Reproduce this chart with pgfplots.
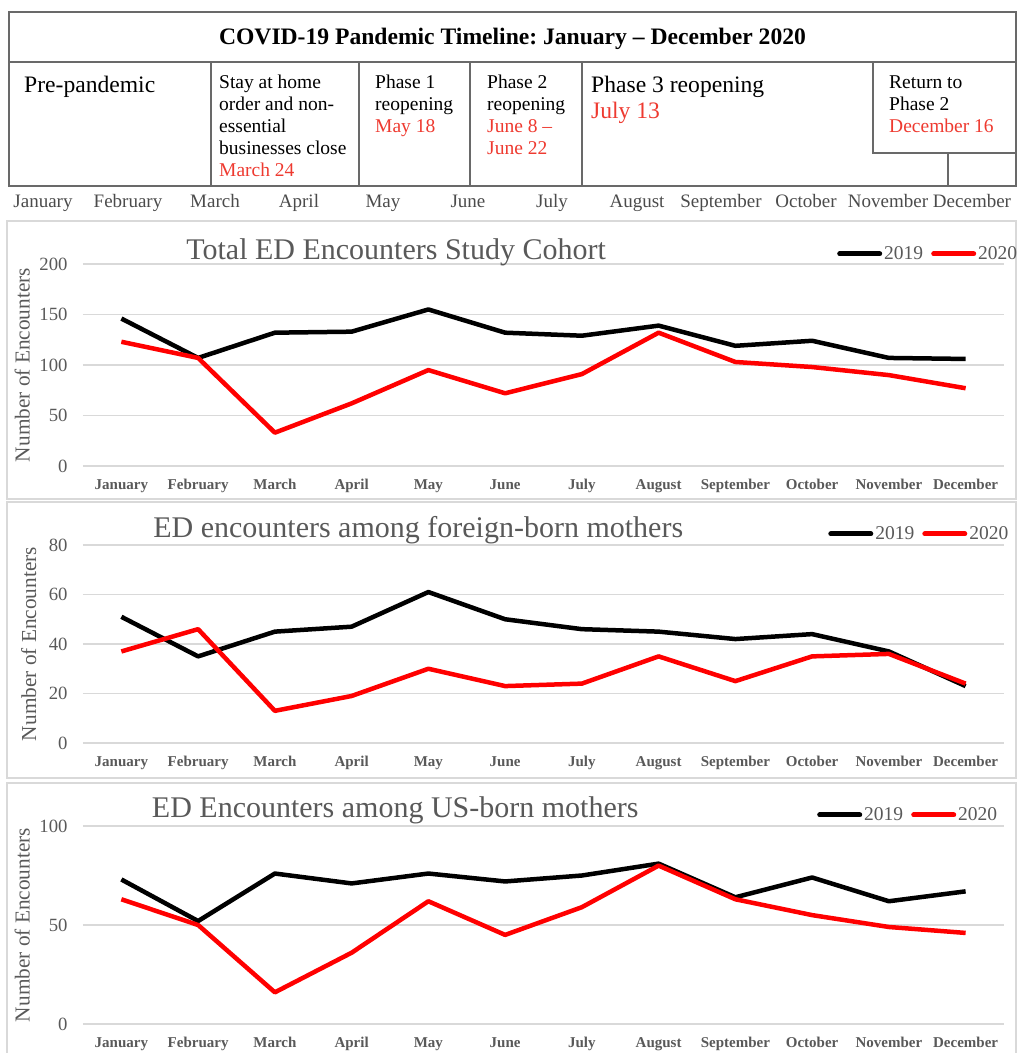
\documentclass[border=0pt]{standalone}
\usepackage{pgfplots}
\pgfplotsset{compat=1.18}
\usepackage{fontspec}
\setmainfont{Liberation Serif}
\frenchspacing
\definecolor{tgray}{RGB}{89,89,89}
\definecolor{ggray}{RGB}{217,217,217}
\definecolor{bgray}{RGB}{105,105,105}
\definecolor{mred}{RGB}{238,58,48}
\definecolor{lred}{RGB}{255,0,0}
\definecolor{mgray}{RGB}{75,75,75}
\tikzset{ttl/.style={anchor=base, font=\fontsize{30}{30}\selectfont, text=tgray}}
\pgfplotsset{
 panel/.style={
  scale only axis, width=921pt, xmin=-0.5, xmax=11.5, ymin=0,
  axis line style={draw=none}, major tick length=0pt,
  ymajorgrids, grid style={ggray, line width=1.5pt},
  xtick={0,...,11},
  xticklabels={January,February,March,April,May,June,July,August,September,October,November,December},
  xticklabel style={font=\fontsize{15}{15}\selectfont\bfseries, text=tgray, yshift=-10pt},
  yticklabel style={font=\fontsize{18.7}{19}\selectfont, text=tgray, xshift=-12pt},
  /pgf/number format/assume math mode=true,
  ylabel={Number of Encounters},
  ylabel style={font=\fontsize{21.3}{22}\selectfont, text=tgray, anchor=center},
  legend columns=2,
  legend image code/.code={\draw[#1, line width=5pt, line cap=round] (0pt,0pt) -- (40pt,0pt);},
  legend style={draw=none, fill=none, anchor=west, inner sep=0pt,
    font=\fontsize{19.5}{20}\selectfont\color{tgray},
    /tikz/every even column/.append style={column sep=6pt}},
  clip=false,
 },
 s19/.style={black, line width=4.5pt, line join=round},
 s20/.style={lred, line width=4.5pt, line join=round},
}
\begin{document}
\begin{tikzpicture}
\path[use as bounding box] (0pt,0pt) rectangle (1017pt,-1053pt);
\begin{scope}[x=1pt,y=-1pt]
% panel borders
\draw[ggray, line width=1.5pt] (7,221) rectangle (1016,499);
\draw[ggray, line width=1.5pt] (7,502) rectangle (1016,778);
\draw[ggray, line width=1.5pt] (7,783) rectangle (1016,1062);
% timeline box
\draw[bgray, line width=1.5pt] (9,12) rectangle (1016,186);
\draw[bgray, line width=1.5pt] (9,62) -- (1016,62);
\draw[bgray, line width=1.5pt] (211,62) -- (211,186);
\draw[bgray, line width=1.5pt] (359,62) -- (359,186);
\draw[bgray, line width=1.5pt] (470,62) -- (470,186);
\draw[bgray, line width=1.5pt] (582,62) -- (582,186);
\draw[bgray, line width=1.5pt] (873,62) -- (873,153) -- (1016,153);
\draw[bgray, line width=1.5pt] (948,153) -- (948,186);
\node[anchor=base, font=\fontsize{23.6}{24}\selectfont\bfseries] at (512.5,44) {COVID-19 Pandemic Timeline: January -- December 2020};
\begin{scope}[every node/.style={anchor=base west, inner sep=0pt, font=\fontsize{19.5}{22}\selectfont}]
\node[font=\fontsize{23.6}{24}\selectfont] at (24,92) {Pre-pandemic};
\node at (219,88) {Stay at home};
\node at (219,110) {order and non-};
\node at (219,132) {essential};
\node at (219,154) {businesses close};
\node[text=mred] at (219,176) {March 24};
\node at (375,88) {Phase 1};
\node at (375,110) {reopening};
\node[text=mred] at (375,132) {May 18};
\node at (487,88) {Phase 2};
\node at (487,110) {reopening};
\node[text=mred] at (487,132) {June 8 --};
\node[text=mred] at (487,154) {June 22};
\node[font=\fontsize{23.6}{24}\selectfont] at (591,92) {Phase 3 reopening};
\node[font=\fontsize{23.6}{24}\selectfont, text=mred] at (591,118) {July 13};
\node at (889,88) {Return to};
\node at (889,110) {Phase 2};
\node[text=mred] at (889,132) {December 16};
\end{scope}
\begin{scope}[every node/.style={anchor=base, inner sep=0pt, font=\fontsize{19}{20}\selectfont, text=mgray}]
\node at (43,207) {January};
\node at (128,207) {February};
\node at (215,207) {March};
\node at (299,207) {April};
\node at (383,207) {May};
\node at (468,207) {June};
\node at (552,207) {July};
\node at (637,207) {August};
\node at (721,207) {September};
\node at (806,207) {October};
\node at (888,207) {November};
\node at (972,207) {December};
\end{scope}
\end{scope}

% Panel 1
\begin{axis}[panel, at={(83pt,-466pt)}, anchor=south west, height=202pt,
  ymax=200, ytick={0,50,100,150,200},
  ylabel style={at={(axis description cs:-0.066,0.5)}},
  legend style={at={(0.8187,1.05)}}]
\addplot[s19] coordinates {(0,146) (1,107) (2,132) (3,133) (4,155) (5,132) (6,129) (7,139) (8,119) (9,124) (10,107) (11,106)};
\addplot[s20] coordinates {(0,123) (1,107) (2,33) (3,62) (4,95) (5,72) (6,91) (7,132) (8,103) (9,98) (10,90) (11,77)};
\legend{2019,2020}
\node[ttl] at (axis description cs:0.34,1.02) {Total ED Encounters Study Cohort};
\end{axis}

% Panel 2
\begin{axis}[panel, at={(83pt,-743pt)}, anchor=south west, height=198pt,
  ymax=80, ytick={0,20,40,60,80},
  ylabel style={at={(axis description cs:-0.059,0.5)}},
  legend style={at={(0.809,1.056)}}]
\addplot[s19] coordinates {(0,51) (1,35) (2,45) (3,47) (4,61) (5,50) (6,46) (7,45) (8,42) (9,44) (10,37) (11,23)};
\addplot[s20] coordinates {(0,37) (1,46) (2,13) (3,19) (4,30) (5,23) (6,24) (7,35) (8,25) (9,35) (10,36) (11,24)};
\legend{2019,2020}
\node[ttl] at (axis description cs:0.364,1.04) {ED encounters among foreign-born mothers};
\end{axis}

% Panel 3
\begin{axis}[panel, at={(83pt,-1024pt)}, anchor=south west, height=198pt,
  ymax=100, ytick={0,50,100},
  ylabel style={at={(axis description cs:-0.066,0.5)}},
  legend style={at={(0.797,1.056)}}]
\addplot[s19] coordinates {(0,73) (1,52) (2,76) (3,71) (4,76) (5,72) (6,75) (7,81) (8,64) (9,74) (10,62) (11,67)};
\addplot[s20] coordinates {(0,63) (1,50) (2,16) (3,36) (4,62) (5,45) (6,59) (7,80) (8,63) (9,55) (10,49) (11,46)};
\legend{2019,2020}
\node[ttl] at (axis description cs:0.339,1.045) {ED Encounters among US-born mothers};
\end{axis}
\end{tikzpicture}
\end{document}
